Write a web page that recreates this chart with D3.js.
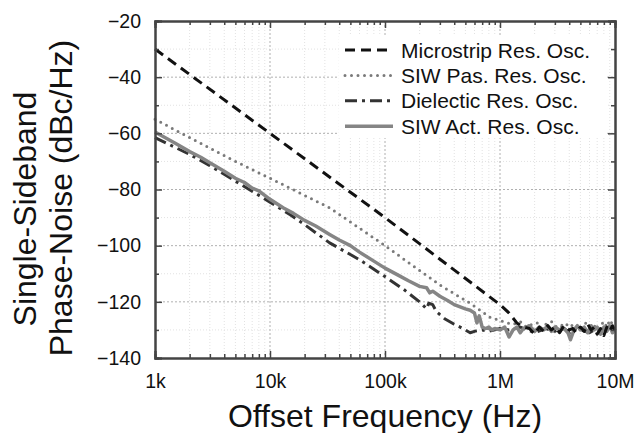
<!DOCTYPE html>
<html>
<head>
<meta charset="utf-8">
<script src="https://cdn.jsdelivr.net/npm/d3@7"></script>
<style>
  body { margin: 0; background: #fff; }
  svg text { font-family: "Liberation Sans", Arial, sans-serif; fill: #111; }
</style>
</head>
<body>
<div id="chart"></div>
<script>
// phase noise comparison chart (4 oscillators)
var seriesNames = ["Microstrip Res. Osc.", "SIW Pas. Res. Osc.", "Dielectic Res. Osc.", "SIW Act. Res. Osc."];

var xTickValues = [1e3, 1e4, 1e5, 1e6, 1e7];
var xTickLabels = ["1k", "10k", "100k", "1M", "10M"];
var yTickValues = [-140, -120, -100, -80, -60, -40, -20];

var microstripFreq = [1e3, 1e4, 1e5, 1e6, 1.2e6, 1.4e6, 1.6e6, 1.8e6, 2.0e6, 2.2e6, 2.4e6, 2.6e6, 2.8e6, 3.0e6, 3.3e6, 3.6e6,
    4.0e6, 4.3e6, 4.6e6, 5.0e6, 5.4e6, 5.8e6, 6.2e6, 6.6e6, 7.0e6, 7.5e6, 8.0e6, 8.5e6, 9.0e6, 9.5e6, 1e7];
var microstripNoise = [-30, -60, -90, -121, -124, -127.5, -129, -129.5, -131.5, -129, -130.5, -128.5, -130, -129, -131, -128.5,
    -130, -129.5, -131, -129, -130.5, -128, -130, -129, -131.5, -129.5, -132, -129, -130.5, -128.5, -130];

var siwPasFreq = [1e3, 2e3, 5e3, 1e4, 3.3e4, 1e5, 3e5, 5.5e5, 8.2e5, 1.15e6, 1.3e6, 1.5e6, 1.7e6, 1.9e6, 2.1e6, 2.3e6,
    2.5e6, 2.8e6, 3.1e6, 3.4e6, 3.7e6, 4.0e6, 4.4e6, 4.8e6, 5.2e6, 5.6e6, 6.0e6, 6.5e6, 7.0e6, 7.5e6, 8.0e6, 8.5e6,
    9.0e6, 9.5e6, 1e7];
var siwPasNoise = [-55, -61.5, -70, -76, -86.5, -100, -114, -120.5, -125.5, -127.5, -128, -127, -129, -128, -127.5, -129.5,
    -128, -127, -129, -128.5, -127.5, -129, -128, -130, -128.5, -127.5, -129, -128, -130, -128.5, -127, -129,
    -126.5, -128, -127];

var dielecFreq = [1e3, 2e3, 3e3, 5e3, 1e4, 1.5e4, 2e4, 3.3e4, 6e4, 1e5, 1.5e5, 2e5, 2.3e5, 2.4e5, 2.6e5, 2.8e5, 3.3e5,
    4e5, 4.5e5, 5.5e5, 6e5, 7e5, 8e5, 1e6, 1.2e6, 1.5e6, 2e6, 2.5e6, 3e6, 3.5e6, 4e6, 4.5e6, 5e6, 6e6, 7e6, 8e6, 9e6, 1e7];
var dielecNoise = [-61.5, -67.5, -71.5, -77, -84.5, -89, -92.5, -99, -105, -111, -116, -120, -122.5, -120.5, -121, -123.5, -126,
    -128, -129, -131, -130.5, -130, -130.5, -129.5, -130, -129, -131, -129.5, -130.5, -129, -131, -129.5, -130, -131, -129.5, -130.5, -129, -130];

var siwActFreq = [1e3, 1.5e3, 2e3, 2.5e3, 3e3, 4e3, 5e3, 6e3, 7e3, 8e3, 1e4, 1.3e4, 1.6e4, 2e4, 2.5e4, 3.3e4, 4e4, 5e4, 6e4,
    8e4, 1e5, 1.3e5, 1.6e5, 2e5, 2.3e5, 2.45e5, 2.6e5, 3e5, 3.5e5, 4e5, 4.5e5, 5e5, 5.5e5, 6e5, 6.3e5, 6.6e5, 7e5, 7.5e5,
    8e5, 8.5e5, 9e5, 1e6, 1.1e6, 1.2e6, 1.3e6, 1.4e6, 1.5e6, 1.6e6, 1.8e6, 2e6, 2.2e6, 2.4e6, 2.6e6, 2.8e6, 3e6, 3.3e6,
    3.6e6, 3.9e6, 4.1e6, 4.4e6, 4.7e6, 5e6, 5.4e6, 5.8e6, 6.2e6, 6.6e6, 7e6, 7.5e6, 8e6, 8.5e6, 9e6, 9.5e6, 1e7];
var siwActNoise = [-59.5, -63.5, -66.5, -68.5, -70.5, -73.5, -76, -77.5, -79.5, -80.5, -83.5, -86.5, -88.5, -91, -93, -96, -98, -100, -102.3,
    -105.5, -108, -110.5, -112.5, -114.5, -115, -116.8, -116.2, -118, -119.5, -121, -121.8, -122.5, -123, -124, -127.5, -125, -129, -129.5,
    -129, -130, -129.5, -130, -129, -132.5, -130, -129, -131, -129.5, -128.5, -130.5, -129, -130, -128.5, -130.5, -129, -130,
    -129.5, -131, -133.5, -130, -128.5, -130, -129, -131, -128.5, -130, -129, -131.5, -129, -130.5, -128.5, -131, -129.5];

var margin = { top: 21, right: 20, bottom: 75, left: 155 },
    width = 635 - margin.left - margin.right,
    height = 433 - margin.top - margin.bottom;

var svg = d3.select("#chart")
    .append("svg")
    .attr("width", 635)
    .attr("height", 433)
    .append("g")
    .attr("transform", "translate(" + margin.left + "," + margin.top + ")");

var x = d3.scaleLog().domain([1e3, 1e7]).range([0, width]);
var y = d3.scaleLinear().domain([-140, -20]).range([height, 0]);

// minor grid values
var xMinor = [];
xTickValues.slice(0, 4).forEach(function (dec) {
    for (var k = 2; k <= 9; k++) xMinor.push(dec * k);
});
var yMinor = [-130, -110, -90, -70, -50, -30];

var grid = svg.append("g").attr("class", "grid");
grid.selectAll(".xminor").data(xMinor).enter().append("line")
    .attr("x1", function (d) { return x(d); }).attr("x2", function (d) { return x(d); })
    .attr("y1", 0).attr("y2", height)
    .attr("stroke", "#e2e2e2").attr("stroke-dasharray", "1,2");
grid.selectAll(".yminor").data(yMinor).enter().append("line")
    .attr("x1", 0).attr("x2", width)
    .attr("y1", function (d) { return y(d); }).attr("y2", function (d) { return y(d); })
    .attr("stroke", "#e2e2e2").attr("stroke-dasharray", "1,2");
grid.selectAll(".xmajor").data(xTickValues.slice(1, 4)).enter().append("line")
    .attr("x1", function (d) { return x(d); }).attr("x2", function (d) { return x(d); })
    .attr("y1", 0).attr("y2", height)
    .attr("stroke", "#b0b0b0").attr("stroke-dasharray", "2,2");
grid.selectAll(".ymajor").data(yTickValues.slice(1, 6)).enter().append("line")
    .attr("x1", 0).attr("x2", width)
    .attr("y1", function (d) { return y(d); }).attr("y2", function (d) { return y(d); })
    .attr("stroke", "#b0b0b0").attr("stroke-dasharray", "2,2");

var styles = [
    { color: "#111", width: 3, dash: "10,6", cap: "butt" },
    { color: "#7a7a7a", width: 3, dash: "0,6.5", cap: "round" },
    { color: "#333", width: 3, dash: "12,5,3,5", cap: "butt" },
    { color: "#858585", width: 3.5, dash: null, cap: "butt" }
];

var seriesData = [
    d3.zip(microstripFreq, microstripNoise),
    d3.zip(siwPasFreq, siwPasNoise),
    d3.zip(dielecFreq, dielecNoise),
    d3.zip(siwActFreq, siwActNoise)
];

var line = d3.line()
    .x(function (d) { return x(d[0]); })
    .y(function (d) { return y(d[1]); });

// draw order: dielectric, siw pas, siw act, microstrip
[2, 1, 3, 0].forEach(function (i) {
    svg.append("path")
        .datum(seriesData[i])
        .attr("d", line)
        .attr("fill", "none")
        .attr("stroke", styles[i].color)
        .attr("stroke-width", styles[i].width)
        .attr("stroke-dasharray", styles[i].dash)
        .attr("stroke-linecap", styles[i].cap)
        .attr("stroke-linejoin", "round");
});

// axes with inward ticks
var axisColor = "#444";
var xAxisB = d3.axisBottom(x).tickValues(xTickValues).tickSize(-7).tickFormat(function (d, i) { return xTickLabels[i]; }).tickPadding(16);
var xAxisT = d3.axisTop(x).tickValues(xTickValues).tickSize(-7).tickFormat("");
var yAxisL = d3.axisLeft(y).tickValues(yTickValues).tickSize(-7).tickPadding(14);
var yAxisR = d3.axisRight(y).tickValues(yTickValues).tickSize(-7).tickFormat("");

svg.append("g").attr("transform", "translate(0," + height + ")").call(xAxisB);
svg.append("g").call(xAxisT);
svg.append("g").call(yAxisL);
svg.append("g").attr("transform", "translate(" + width + ",0)").call(yAxisR);

// minor ticks
var minorB = d3.axisBottom(x).tickValues(xMinor).tickSize(-4).tickFormat("");
var minorT = d3.axisTop(x).tickValues(xMinor).tickSize(-4).tickFormat("");
var minorL = d3.axisLeft(y).tickValues(yMinor).tickSize(-4).tickFormat("");
var minorR = d3.axisRight(y).tickValues(yMinor).tickSize(-4).tickFormat("");
svg.append("g").attr("transform", "translate(0," + height + ")").call(minorB);
svg.append("g").call(minorT);
svg.append("g").call(minorL);
svg.append("g").attr("transform", "translate(" + width + ",0)").call(minorR);

svg.selectAll(".domain").attr("stroke", axisColor).attr("stroke-width", 2);
svg.selectAll(".tick line").attr("stroke", axisColor).attr("stroke-width", 1.5);
svg.selectAll(".tick text").attr("font-size", "19.5px").attr("fill", "#111")
    .style("font-family", "'Liberation Sans', Arial, sans-serif");

// legend
var legend = svg.append("g").attr("transform", "translate(" + (345 - margin.left) + "," + (50 - margin.top) + ")");
legend.append("rect")
    .attr("x", -6).attr("y", -15).attr("width", 268).attr("height", 103)
    .attr("fill", "#fff");
seriesNames.forEach(function (name, i) {
    var row = legend.append("g").attr("transform", "translate(0," + (i * 25.4) + ")");
    row.append("line")
        .attr("x1", 0).attr("x2", 48).attr("y1", 0).attr("y2", 0)
        .attr("stroke", styles[i].color)
        .attr("stroke-width", styles[i].width)
        .attr("stroke-dasharray", styles[i].dash)
        .attr("stroke-linecap", styles[i].cap);
    row.append("text")
        .attr("x", 56).attr("y", 7.5)
        .attr("font-size", "21px")
        .text(name);
});

// axis titles
svg.append("text")
    .attr("x", width / 2).attr("y", height + 69)
    .attr("text-anchor", "middle")
    .attr("font-size", "32px")
    .text("Offset Frequency (Hz)");

svg.append("text")
    .attr("transform", "translate(" + (36 - margin.left) + "," + (209 - margin.top) + ") rotate(-90)")
    .attr("text-anchor", "middle")
    .attr("font-size", "32px")
    .text("Single-Sideband");
svg.append("text")
    .attr("transform", "translate(" + (72 - margin.left) + "," + (198 - margin.top) + ") rotate(-90)")
    .attr("text-anchor", "middle")
    .attr("font-size", "32px")
    .text("Phase-Noise (dBc/Hz)");
</script>
</body>
</html>
